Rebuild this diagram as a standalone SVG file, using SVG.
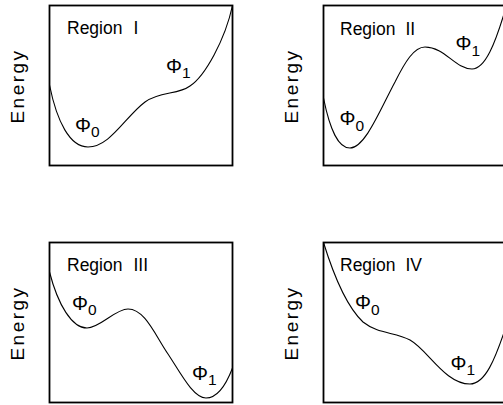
<svg xmlns="http://www.w3.org/2000/svg" width="503" height="405" viewBox="0 0 503 405">
<style>
.box{fill:none;stroke:#000;stroke-width:1.8}
.curve{fill:none;stroke:#000;stroke-width:1.1}
.lbl{font-family:"Liberation Sans",Arial,sans-serif;font-size:17.5px;fill:#000}
.phi{font-family:"Liberation Sans",Arial,sans-serif;font-size:20px;fill:#000}
.sub{font-size:15.5px}
.axis{font-family:"Liberation Sans",Arial,sans-serif;font-size:19px;letter-spacing:2.5px;fill:#000}
</style>
<rect width="503" height="405" fill="#fff"/>
<g id="panel-1">
<rect class="box" x="49.5" y="5.5" width="183" height="160"/>
<path class="curve" d="M49.5,85 C57,122 70,147 88,147 C110,147 125,117 145,102 C160,91 178,95 190,86 C205,76 225,40 232.5,5.5"/>
<text class="lbl" x="67" y="33.5">Region<tspan x="133.5">I</tspan></text>
<text class="phi" x="75" y="132">Φ<tspan class="sub" dy="5">0</tspan></text>
<text class="phi" x="166" y="73">Φ<tspan class="sub" dy="5">1</tspan></text>
<text class="axis" transform="translate(23.5,86) rotate(-90)" text-anchor="middle">Energy</text>
</g>
<g id="panel-2">
<rect class="box" x="323.5" y="5.5" width="183" height="160"/>
<path class="curve" d="M323.5,98 C330,130 338,148 350,148 C365,148 380,110 395,82 C405,62 414,47 425,47 C445,47 455,69 472,69 C485,69 495,45 506.5,5.5"/>
<text class="lbl" x="340" y="34.5">Region<tspan x="405.5">II</tspan></text>
<text class="phi" x="339.5" y="125">Φ<tspan class="sub" dy="5.5">0</tspan></text>
<text class="phi" x="455.5" y="50">Φ<tspan class="sub" dy="5.5">1</tspan></text>
<text class="axis" transform="translate(297.5,86) rotate(-90)" text-anchor="middle">Energy</text>
</g>
<g id="panel-3">
<rect class="box" x="49.5" y="242.5" width="183" height="160"/>
<path class="curve" d="M49.5,272 C58,305 72,328 87,328 C100,328 115,309 128,309 C145,309 155,335 168,354 C180,372 193,398 206,398 C218,398 226,385 232.5,368"/>
<text class="lbl" x="67" y="270.5">Region<tspan x="133.5">III</tspan></text>
<text class="phi" x="72" y="310">Φ<tspan class="sub" dy="5">0</tspan></text>
<text class="phi" x="192" y="380">Φ<tspan class="sub" dy="5">1</tspan></text>
<text class="axis" transform="translate(23.5,323) rotate(-90)" text-anchor="middle">Energy</text>
</g>
<g id="panel-4">
<rect class="box" x="323.5" y="242.5" width="183" height="160"/>
<path class="curve" d="M323.5,242.5 C332,270 345,305 363,322 C378,334 395,332 410,340 C428,350 445,384 470,384 C485,384 495,360 506.5,325"/>
<text class="lbl" x="340" y="270.5">Region<tspan x="405.5">IV</tspan></text>
<text class="phi" x="355" y="309">Φ<tspan class="sub" dy="5.5">0</tspan></text>
<text class="phi" x="450.5" y="370">Φ<tspan class="sub" dy="5">1</tspan></text>
<text class="axis" transform="translate(297.5,323) rotate(-90)" text-anchor="middle">Energy</text>
</g>
</svg>
